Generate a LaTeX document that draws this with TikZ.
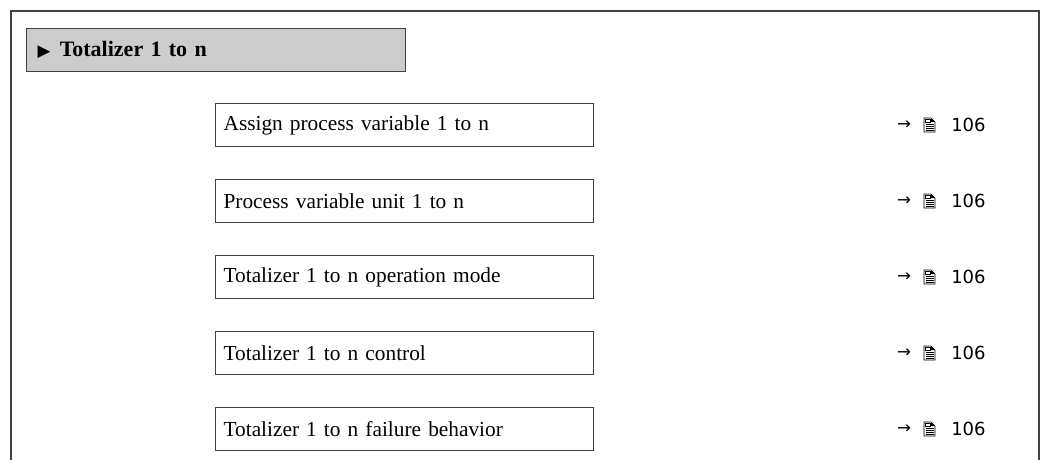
\documentclass[tikz,border=0pt]{standalone}
\usepackage{fontspec}
\setmainfont{Liberation Serif}
\newfontfamily\symfont{DejaVu Sans}
\definecolor{framegray}{RGB}{64, 64, 64}
\definecolor{headgray}{RGB}{204, 204, 204}
\usetikzlibrary{positioning}

\tikzset{
  docicon/.pic={
    \draw[line width=0.5pt] (-5.5,7) -- (-5.5,-7) -- (1.5,-7) -- (5.5,-3) -- (5.5,7) -- cycle;
    \fill (1.5,-7) -- (5.5,-3) -- (1.5,-3) -- cycle;
    \draw[line width=0.4pt] (-4,-5.5) rectangle (0.5,-2.5);
    \foreach \yy in {-0.5,1.5,3.5,5.5}
      \draw[line width=0.5pt] (-4,\yy) -- (4,\yy);
  }
}

\begin{document}
\begin{tikzpicture}[
  x=0.75pt, y=-0.75pt,
  headbox/.style={draw=framegray, fill=headgray, line width=0.9pt, anchor=north west, minimum width=284.25pt, minimum height=32.25pt, text width=267.75pt, inner xsep=8.25pt, align=left, font=\fontsize{16.5}{18}\selectfont\bfseries},
  parbox/.style={draw=framegray, line width=0.9pt, anchor=north west, minimum width=283.5pt, minimum height=32.25pt, text width=271.5pt, inner xsep=6pt, align=left, font=\fontsize{16}{18}\selectfont},
  refarrow/.style={inner sep=0pt, font=\symfont\fontsize{12.5}{13}\selectfont},
  refnum/.style={inner sep=0pt, anchor=west, font=\symfont\fontsize{13.5}{14}\selectfont}
]
  \useasboundingbox (0,0) rectangle (1043,460);
  % outer frame, open at the bottom
  \draw[framegray, line width=1.1pt] (11,460) -- (11,11) -- (1039,11) -- (1039,460);

  \node[headbox] (head) at (26,28) {{\symfont\fontsize{12.5}{13}\selectfont ▶}\hspace{7pt}Totalizer 1 to n};

  \node[parbox] (assign) at (215,103) {Assign process variable 1 to n};
  \node[parbox] (unit) at (215,179) {Process variable unit 1 to n};
  \node[parbox] (mode) at (215,255) {Totalizer 1 to n operation mode};
  \node[parbox] (control) at (215,331) {Totalizer 1 to n control};
  \node[parbox] (failure) at (215,407) {Totalizer 1 to n failure behavior};

  % page references
  \node[refarrow] (arrA) at (904,125) {→};
  \pic at (929.5,125) {docicon};
  \node[refnum] (pageA) at (951,125) {106};
  \node[refarrow] (arrB) at (904,201) {→};
  \pic at (929.5,201) {docicon};
  \node[refnum] (pageB) at (951,201) {106};
  \node[refarrow] (arrC) at (904,277) {→};
  \pic at (929.5,277) {docicon};
  \node[refnum] (pageC) at (951,277) {106};
  \node[refarrow] (arrD) at (904,353) {→};
  \pic at (929.5,353) {docicon};
  \node[refnum] (pageD) at (951,353) {106};
  \node[refarrow] (arrE) at (904,429) {→};
  \pic at (929.5,429) {docicon};
  \node[refnum] (pageE) at (951,429) {106};
\end{tikzpicture}
\end{document}
